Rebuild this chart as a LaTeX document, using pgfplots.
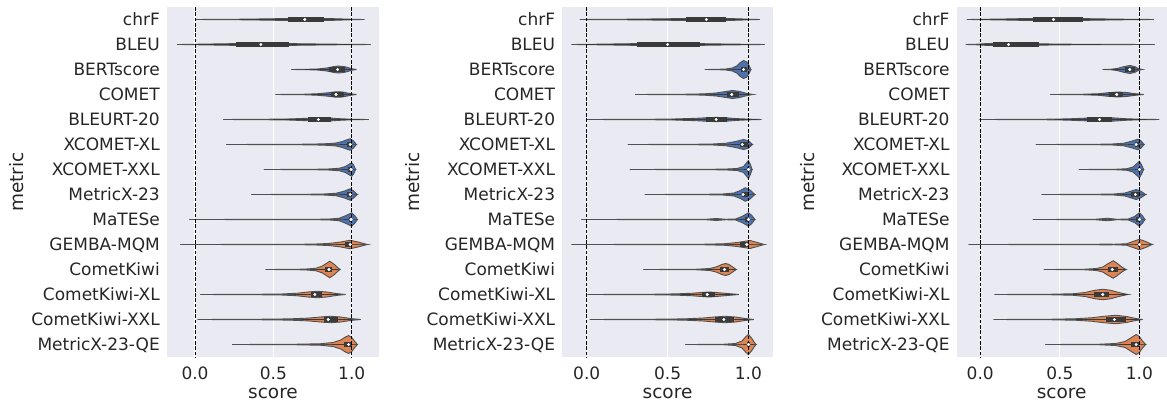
\documentclass[border=0pt]{standalone}
\usepackage{fontspec}
\setmainfont{DejaVu Sans}
\usepackage{pgfplots}
\usepackage{pgfplotstable}
\pgfplotsset{compat=1.18}

\definecolor{bg}{HTML}{EAEAF2}
\definecolor{sbblue}{HTML}{4C72B0}
\definecolor{sborange}{HTML}{DD8452}
\definecolor{edge}{HTML}{505050}
\definecolor{boxgray}{HTML}{3A3A3A}
\definecolor{txt}{HTML}{262626}

% violin profiles: x = score, w = half width (category units)
% ---- panel A
\pgfplotstableread[row sep=\\]{x w\\ 0.00 0\\ 0.10 0.004\\ 0.29 0.012\\ 0.45 0.025\\ 0.60 0.042\\ 0.70 0.05\\ 0.80 0.045\\ 0.90 0.03\\ 0.97 0.015\\ 1.02 0.005\\ 1.08 0\\}\Achrf
\pgfplotstableread[row sep=\\]{x w\\ -0.115 0\\ -0.05 0.004\\ 0.0 0.01\\ 0.1 0.02\\ 0.25 0.035\\ 0.40 0.045\\ 0.55 0.04\\ 0.70 0.028\\ 0.85 0.015\\ 1.0 0.007\\ 1.12 0\\}\Ableu
\pgfplotstableread[row sep=\\]{x w\\ 0.614 0\\ 0.70 0.006\\ 0.78 0.02\\ 0.84 0.06\\ 0.88 0.11\\ 0.91 0.14\\ 0.95 0.12\\ 0.98 0.07\\ 1.0 0.03\\ 1.03 0\\}\Abert
\pgfplotstableread[row sep=\\]{x w\\ 0.514 0\\ 0.60 0.005\\ 0.70 0.012\\ 0.78 0.03\\ 0.85 0.07\\ 0.90 0.11\\ 0.94 0.10\\ 0.98 0.05\\ 1.0 0.025\\ 1.03 0\\}\Acomet
\pgfplotstableread[row sep=\\]{x w\\ 0.18 0\\ 0.30 0.004\\ 0.45 0.01\\ 0.60 0.022\\ 0.70 0.045\\ 0.79 0.07\\ 0.86 0.06\\ 0.93 0.03\\ 1.0 0.012\\ 1.05 0.004\\ 1.11 0\\}\Ableurt
\pgfplotstableread[row sep=\\]{x w\\ 0.20 0\\ 0.40 0.003\\ 0.60 0.008\\ 0.75 0.015\\ 0.85 0.035\\ 0.90 0.06\\ 0.94 0.12\\ 0.97 0.19\\ 0.99 0.23\\ 1.01 0.15\\ 1.03 0\\}\Axl
\pgfplotstableread[row sep=\\]{x w\\ 0.44 0\\ 0.60 0.003\\ 0.75 0.008\\ 0.85 0.02\\ 0.92 0.05\\ 0.96 0.12\\ 0.98 0.2\\ 1.0 0.27\\ 1.012 0.18\\ 1.025 0\\}\Axxl
\pgfplotstableread[row sep=\\]{x w\\ 0.36 0\\ 0.55 0.003\\ 0.70 0.008\\ 0.82 0.02\\ 0.90 0.05\\ 0.95 0.13\\ 0.99 0.23\\ 1.01 0.15\\ 1.036 0\\}\Amx
\pgfplotstableread[row sep=\\]{x w\\ -0.036 0\\ 0.3 0.003\\ 0.7 0.006\\ 0.85 0.015\\ 0.92 0.05\\ 0.96 0.15\\ 1.0 0.27\\ 1.02 0.15\\ 1.036 0\\}\Amates
\pgfplotstableread[row sep=\\]{x w\\ -0.094 0\\ 0.3 0.003\\ 0.6 0.006\\ 0.75 0.015\\ 0.85 0.04\\ 0.92 0.09\\ 0.99 0.17\\ 1.04 0.1\\ 1.10 0\\}\Agemba
\pgfplotstableread[row sep=\\]{x w\\ 0.45 0\\ 0.60 0.005\\ 0.70 0.015\\ 0.77 0.05\\ 0.81 0.13\\ 0.84 0.25\\ 0.86 0.33\\ 0.89 0.2\\ 0.91 0.08\\ 0.925 0\\}\Akiwi
\pgfplotstableread[row sep=\\]{x w\\ 0.034 0\\ 0.2 0.004\\ 0.4 0.01\\ 0.55 0.02\\ 0.65 0.05\\ 0.72 0.1\\ 0.78 0.13\\ 0.84 0.1\\ 0.90 0.04\\ 0.96 0\\}\Akiwixl
\pgfplotstableread[row sep=\\]{x w\\ 0.017 0\\ 0.2 0.004\\ 0.4 0.01\\ 0.6 0.025\\ 0.72 0.055\\ 0.80 0.1\\ 0.865 0.13\\ 0.93 0.1\\ 0.99 0.04\\ 1.057 0\\}\Akiwixxl
\pgfplotstableread[row sep=\\]{x w\\ 0.237 0\\ 0.45 0.004\\ 0.65 0.012\\ 0.80 0.03\\ 0.88 0.08\\ 0.93 0.18\\ 0.96 0.3\\ 0.98 0.36\\ 1.0 0.28\\ 1.02 0.12\\ 1.036 0\\}\Amxqe
% ---- panel B
\pgfplotstableread[row sep=\\]{x w\\ -0.043 0\\ 0.05 0.005\\ 0.25 0.012\\ 0.45 0.025\\ 0.60 0.04\\ 0.74 0.05\\ 0.85 0.045\\ 0.95 0.025\\ 1.0 0.012\\ 1.07 0\\}\Bchrf
\pgfplotstableread[row sep=\\]{x w\\ -0.093 0\\ 0 0.006\\ 0.15 0.02\\ 0.3 0.035\\ 0.5 0.045\\ 0.7 0.035\\ 0.85 0.02\\ 1.0 0.008\\ 1.10 0\\}\Bbleu
\pgfplotstableread[row sep=\\]{x w\\ 0.73 0\\ 0.80 0.006\\ 0.86 0.02\\ 0.90 0.06\\ 0.93 0.15\\ 0.95 0.28\\ 0.97 0.36\\ 0.99 0.3\\ 1.005 0.15\\ 1.015 0\\}\Bbert
\pgfplotstableread[row sep=\\]{x w\\ 0.30 0\\ 0.45 0.004\\ 0.6 0.01\\ 0.72 0.025\\ 0.80 0.06\\ 0.86 0.12\\ 0.90 0.16\\ 0.94 0.13\\ 0.98 0.06\\ 1.025 0\\}\Bcomet
\pgfplotstableread[row sep=\\]{x w\\ 0 0\\ 0.2 0.004\\ 0.4 0.01\\ 0.55 0.022\\ 0.68 0.05\\ 0.76 0.075\\ 0.80 0.085\\ 0.86 0.07\\ 0.93 0.035\\ 1.0 0.015\\ 1.08 0\\}\Bbleurt
\pgfplotstableread[row sep=\\]{x w\\ 0.255 0\\ 0.45 0.003\\ 0.65 0.008\\ 0.78 0.02\\ 0.86 0.05\\ 0.92 0.12\\ 0.97 0.2\\ 1.0 0.15\\ 1.025 0\\}\Bxl
\pgfplotstableread[row sep=\\]{x w\\ 0.267 0\\ 0.5 0.003\\ 0.7 0.006\\ 0.85 0.015\\ 0.93 0.04\\ 0.97 0.12\\ 0.99 0.28\\ 1.0 0.36\\ 1.012 0.2\\ 1.023 0\\}\Bxxl
\pgfplotstableread[row sep=\\]{x w\\ 0.36 0\\ 0.55 0.003\\ 0.72 0.008\\ 0.84 0.02\\ 0.91 0.06\\ 0.95 0.16\\ 0.98 0.27\\ 1.01 0.18\\ 1.04 0\\}\Bmx
\pgfplotstableread[row sep=\\]{x w\\ -0.033 0\\ 0.3 0.003\\ 0.6 0.005\\ 0.74 0.01\\ 0.80 0.04\\ 0.86 0.01\\ 0.92 0.02\\ 0.96 0.12\\ 1.0 0.27\\ 1.02 0.17\\ 1.04 0\\}\Bmates
\pgfplotstableread[row sep=\\]{x w\\ -0.093 0\\ 0.3 0.003\\ 0.6 0.006\\ 0.73 0.012\\ 0.85 0.03\\ 0.93 0.08\\ 1.0 0.15\\ 1.01 0.16\\ 1.05 0.09\\ 1.097 0\\}\Bgemba
\pgfplotstableread[row sep=\\]{x w\\ 0.35 0\\ 0.55 0.004\\ 0.68 0.012\\ 0.76 0.04\\ 0.80 0.1\\ 0.835 0.2\\ 0.858 0.24\\ 0.88 0.2\\ 0.905 0.09\\ 0.924 0\\}\Bkiwi
\pgfplotstableread[row sep=\\]{x w\\ 0.006 0\\ 0.2 0.004\\ 0.4 0.01\\ 0.55 0.025\\ 0.65 0.05\\ 0.72 0.085\\ 0.755 0.1\\ 0.80 0.08\\ 0.87 0.04\\ 0.94 0\\}\Bkiwixl
\pgfplotstableread[row sep=\\]{x w\\ 0.019 0\\ 0.2 0.004\\ 0.4 0.01\\ 0.6 0.025\\ 0.72 0.06\\ 0.80 0.105\\ 0.854 0.13\\ 0.92 0.1\\ 0.98 0.04\\ 1.033 0\\}\Bkiwixxl
\pgfplotstableread[row sep=\\]{x w\\ 0.61 0\\ 0.75 0.004\\ 0.85 0.012\\ 0.92 0.04\\ 0.96 0.14\\ 0.985 0.32\\ 1.0 0.4\\ 1.02 0.25\\ 1.035 0.1\\ 1.047 0\\}\Bmxqe
% ---- panel C
\pgfplotstableread[row sep=\\]{x w\\ -0.084 0\\ 0 0.006\\ 0.15 0.02\\ 0.3 0.04\\ 0.45 0.05\\ 0.6 0.042\\ 0.75 0.025\\ 0.9 0.012\\ 1.0 0.006\\ 1.092 0\\}\Cchrf
\pgfplotstableread[row sep=\\]{x w\\ -0.09 0\\ -0.03 0.01\\ 0.05 0.04\\ 0.15 0.05\\ 0.3 0.035\\ 0.45 0.02\\ 0.6 0.01\\ 0.76 0.005\\ 0.9 0.003\\ 1.096 0\\}\Cbleu
\pgfplotstableread[row sep=\\]{x w\\ 0.77 0\\ 0.82 0.01\\ 0.86 0.04\\ 0.90 0.11\\ 0.94 0.16\\ 0.97 0.12\\ 0.99 0.05\\ 1.017 0\\}\Cbert
\pgfplotstableread[row sep=\\]{x w\\ 0.44 0\\ 0.55 0.004\\ 0.65 0.012\\ 0.74 0.03\\ 0.80 0.07\\ 0.864 0.1\\ 0.92 0.08\\ 0.97 0.035\\ 1.027 0\\}\Ccomet
\pgfplotstableread[row sep=\\]{x w\\ -0.004 0\\ 0.2 0.004\\ 0.4 0.01\\ 0.55 0.025\\ 0.68 0.06\\ 0.77 0.08\\ 0.85 0.06\\ 0.92 0.03\\ 1.0 0.012\\ 1.124 0\\}\Cbleurt
\pgfplotstableread[row sep=\\]{x w\\ 0.35 0\\ 0.55 0.003\\ 0.72 0.008\\ 0.83 0.02\\ 0.90 0.05\\ 0.95 0.13\\ 0.99 0.21\\ 1.01 0.15\\ 1.03 0\\}\Cxl
\pgfplotstableread[row sep=\\]{x w\\ 0.62 0\\ 0.75 0.004\\ 0.85 0.01\\ 0.92 0.03\\ 0.96 0.1\\ 0.985 0.24\\ 1.0 0.33\\ 1.013 0.2\\ 1.027 0\\}\Cxxl
\pgfplotstableread[row sep=\\]{x w\\ 0.386 0\\ 0.55 0.003\\ 0.72 0.008\\ 0.84 0.02\\ 0.91 0.06\\ 0.95 0.14\\ 0.98 0.2\\ 1.01 0.13\\ 1.04 0\\}\Cmx
\pgfplotstableread[row sep=\\]{x w\\ 0.33 0\\ 0.55 0.003\\ 0.72 0.008\\ 0.80 0.05\\ 0.86 0.008\\ 0.93 0.02\\ 0.97 0.12\\ 1.0 0.27\\ 1.02 0.15\\ 1.035 0\\}\Cmates
\pgfplotstableread[row sep=\\]{x w\\ -0.073 0\\ 0.3 0.003\\ 0.6 0.005\\ 0.75 0.012\\ 0.79 0.02\\ 0.84 0.01\\ 0.92 0.03\\ 0.96 0.12\\ 1.0 0.21\\ 1.04 0.12\\ 1.08 0\\}\Cgemba
\pgfplotstableread[row sep=\\]{x w\\ 0.40 0\\ 0.55 0.004\\ 0.66 0.012\\ 0.73 0.04\\ 0.77 0.1\\ 0.80 0.22\\ 0.836 0.35\\ 0.86 0.25\\ 0.89 0.1\\ 0.916 0\\}\Ckiwi
\pgfplotstableread[row sep=\\]{x w\\ 0.09 0\\ 0.25 0.004\\ 0.45 0.012\\ 0.58 0.03\\ 0.66 0.08\\ 0.72 0.17\\ 0.77 0.21\\ 0.82 0.17\\ 0.87 0.08\\ 0.927 0\\}\Ckiwixl
\pgfplotstableread[row sep=\\]{x w\\ 0.084 0\\ 0.25 0.004\\ 0.45 0.012\\ 0.6 0.03\\ 0.7 0.07\\ 0.78 0.13\\ 0.853 0.17\\ 0.92 0.12\\ 0.97 0.05\\ 1.02 0\\}\Ckiwixxl
\pgfplotstableread[row sep=\\]{x w\\ 0.41 0\\ 0.6 0.004\\ 0.75 0.012\\ 0.85 0.04\\ 0.91 0.12\\ 0.95 0.28\\ 0.98 0.4\\ 1.0 0.32\\ 1.02 0.14\\ 1.04 0\\}\Cmxqe

% one violin: #1 row, #2 colour, #3 profile, then q1, median, q3, whisker low, whisker high
\newcommand{\vrow}[8]{%
  \addplot[vio, fill=#2] table[x=x, y expr=#1-\thisrow{w}] {#3} -- cycle;
  \addplot[vio, fill=#2] table[x=x, y expr=#1+\thisrow{w}] {#3} -- cycle;
  \addplot[boxgray, line width=1.6pt] coordinates {(#7,#1) (#8,#1)};
  \addplot[boxgray, line width=4.5pt] coordinates {(#4,#1) (#6,#1)};
  \addplot[only marks, mark=*, mark size=1.3pt, mark options={draw=white, fill=white}] coordinates {(#5,#1)};
}
\newcommand{\refs}{%
  \addplot[black, line width=1pt, dash pattern=on 3.7pt off 1.6pt] coordinates {(0,-0.5) (0,13.5)};
  \addplot[black, line width=1pt, dash pattern=on 3.7pt off 1.6pt] coordinates {(1,-0.5) (1,13.5)};
}

\pgfplotsset{
  vio/.style={draw=edge, line width=0.9pt},
  vpanel/.style={
    scale only axis, height=350pt,
    y dir=reverse, ymin=-0.5, ymax=13.5,
    ytick={0,...,13},
    yticklabels={chrF,BLEU,BERTscore,COMET,BLEURT-20,XCOMET-XL,XCOMET-XXL,MetricX-23,MaTESe,GEMBA-MQM,CometKiwi,CometKiwi-XL,CometKiwi-XXL,MetricX-23-QE},
    xtick={0,0.5,1}, xticklabels={0.0,0.5,1.0},
    major tick length=0pt, tick style={draw=none},
    axis line style={draw=none},
    axis background/.style={fill=bg},
    xmajorgrids, major grid style={white, line width=1.1pt},
    tick label style={font=\fontsize{17}{20}\selectfont, text=txt},
    yticklabel style={anchor=base east, inner sep=0pt, xshift=-7pt, yshift=-6pt},
    xticklabel style={anchor=north, inner sep=0pt, yshift=-10pt},
    label style={font=\fontsize{18.5}{22}\selectfont, text=txt},
    xlabel={score}, ylabel={metric},
    xlabel style={at={(axis description cs:0.5,-0.119)}, anchor=base},
    ylabel style={at={(axis description cs:-0.71,0.5)}, anchor=center, rotate=0},
    /pgf/number format/assume math mode=true,
  },
}

\begin{document}
\begin{tikzpicture}
\useasboundingbox (0,0) rectangle (1167pt,403pt);

\begin{axis}[vpanel, at={(167pt,46pt)}, anchor=south west, width=212pt, xmin=-0.179, xmax=1.174]
\vrow{0}{sbblue}{\Achrf}{0.595}{0.70}{0.82}{0.28}{1.0}
\vrow{1}{sbblue}{\Ableu}{0.26}{0.42}{0.60}{0.0}{1.0}
\vrow{2}{sbblue}{\Abert}{0.855}{0.91}{0.96}{0.70}{1.0}
\vrow{3}{sbblue}{\Acomet}{0.865}{0.90}{0.95}{0.74}{1.0}
\vrow{4}{sbblue}{\Ableurt}{0.72}{0.787}{0.865}{0.50}{1.05}
\vrow{5}{sbblue}{\Axl}{0.97}{0.99}{1.0}{0.925}{1.0}
\vrow{6}{sbblue}{\Axxl}{0.975}{0.995}{1.0}{0.94}{1.0}
\vrow{7}{sbblue}{\Amx}{0.97}{0.99}{1.0}{0.925}{1.0}
\vrow{8}{sbblue}{\Amates}{0.98}{0.995}{1.0}{0.95}{1.0}
\vrow{9}{sborange}{\Agemba}{0.96}{0.99}{1.0}{0.90}{1.0}
\vrow{10}{sborange}{\Akiwi}{0.83}{0.855}{0.875}{0.76}{0.91}
\vrow{11}{sborange}{\Akiwixl}{0.74}{0.765}{0.81}{0.635}{0.915}
\vrow{12}{sborange}{\Akiwixxl}{0.82}{0.85}{0.91}{0.685}{1.0}
\vrow{13}{sborange}{\Amxqe}{0.95}{0.98}{1.0}{0.875}{1.0}
\refs
\end{axis}

\begin{axis}[vpanel, at={(562.3pt,46pt)}, anchor=south west, width=210.4pt, xmin=-0.151, xmax=1.150]
\vrow{0}{sbblue}{\Bchrf}{0.615}{0.74}{0.864}{0.25}{1.0}
\vrow{1}{sbblue}{\Bbleu}{0.31}{0.50}{0.70}{0.0}{1.0}
\vrow{2}{sbblue}{\Bbert}{0.955}{0.97}{0.99}{0.90}{1.0}
\vrow{3}{sbblue}{\Bcomet}{0.87}{0.897}{0.94}{0.77}{1.0}
\vrow{4}{sbblue}{\Bbleurt}{0.735}{0.80}{0.87}{0.53}{1.05}
\vrow{5}{sbblue}{\Bxl}{0.95}{0.962}{0.995}{0.89}{1.0}
\vrow{6}{sbblue}{\Bxxl}{0.99}{1.0}{1.005}{0.97}{1.0}
\vrow{7}{sbblue}{\Bmx}{0.96}{0.967}{1.0}{0.90}{1.0}
\vrow{8}{sbblue}{\Bmates}{0.98}{1.0}{1.0}{0.95}{1.0}
\vrow{9}{sborange}{\Bgemba}{0.95}{0.99}{1.0}{0.88}{1.0}
\vrow{10}{sborange}{\Bkiwi}{0.827}{0.852}{0.877}{0.75}{0.92}
\vrow{11}{sborange}{\Bkiwixl}{0.714}{0.745}{0.796}{0.59}{0.92}
\vrow{12}{sborange}{\Bkiwixxl}{0.796}{0.848}{0.91}{0.63}{1.0}
\vrow{13}{sborange}{\Bmxqe}{0.99}{1.0}{1.01}{0.97}{1.03}
\refs
\end{axis}

\begin{axis}[vpanel, at={(956.7pt,46pt)}, anchor=south west, width=210pt, xmin=-0.148, xmax=1.172]
\vrow{0}{sbblue}{\Cchrf}{0.333}{0.46}{0.644}{0.0}{1.0}
\vrow{1}{sbblue}{\Cbleu}{0.082}{0.178}{0.367}{0.0}{0.76}
\vrow{2}{sbblue}{\Cbert}{0.91}{0.94}{0.97}{0.83}{1.0}
\vrow{3}{sbblue}{\Ccomet}{0.81}{0.858}{0.90}{0.68}{1.0}
\vrow{4}{sbblue}{\Cbleurt}{0.67}{0.75}{0.83}{0.47}{1.05}
\vrow{5}{sbblue}{\Cxl}{0.97}{0.98}{1.0}{0.93}{1.0}
\vrow{6}{sbblue}{\Cxxl}{0.99}{1.0}{1.0}{0.97}{1.0}
\vrow{7}{sbblue}{\Cmx}{0.95}{0.975}{0.995}{0.89}{1.0}
\vrow{8}{sbblue}{\Cmates}{0.98}{1.0}{1.0}{0.95}{1.0}
\vrow{9}{sborange}{\Cgemba}{0.99}{1.0}{1.0}{0.97}{1.0}
\vrow{10}{sborange}{\Ckiwi}{0.803}{0.83}{0.866}{0.71}{0.916}
\vrow{11}{sborange}{\Ckiwixl}{0.717}{0.77}{0.81}{0.58}{0.927}
\vrow{12}{sborange}{\Ckiwixxl}{0.79}{0.843}{0.916}{0.60}{1.0}
\vrow{13}{sborange}{\Cmxqe}{0.947}{0.98}{1.0}{0.87}{1.0}
\refs
\end{axis}
\end{tikzpicture}
\end{document}
